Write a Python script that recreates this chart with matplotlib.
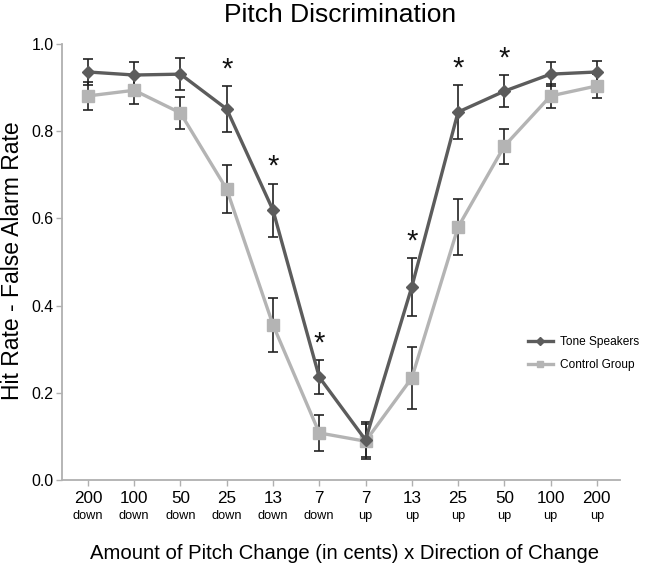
import numpy as np
import matplotlib
matplotlib.use("Agg")
import matplotlib.pyplot as plt
import matplotlib.transforms as mtransforms

plt.rcParams['font.family'] = ['Liberation Sans', 'DejaVu Sans']

amounts = ["200", "100", "50", "25", "13", "7", "7", "13", "25", "50", "100", "200"]
directions = ["down"] * 6 + ["up"] * 6

tone = [0.936, 0.929, 0.931, 0.851, 0.619, 0.236, 0.092, 0.443, 0.844, 0.892, 0.931, 0.936]
tone_err = [0.030, 0.030, 0.036, 0.053, 0.061, 0.039, 0.040, 0.067, 0.062, 0.037, 0.028, 0.026]
control = [0.881, 0.894, 0.842, 0.667, 0.356, 0.108, 0.089, 0.234, 0.580, 0.766, 0.881, 0.904]
control_err = [0.032, 0.032, 0.037, 0.055, 0.062, 0.041, 0.040, 0.070, 0.064, 0.040, 0.028, 0.028]
significant = [False, False, False, True, True, True, False, True, True, True, False, False]

x = np.arange(len(amounts))

fig = plt.figure(figsize=(6.54, 5.65), dpi=100)
ax = fig.add_axes([0.0948, 0.1504, 0.8532, 0.7716])

ax.errorbar(x, control, yerr=control_err, fmt='none', ecolor='#222222',
            elinewidth=1.2, capsize=3.5, capthick=1.2, zorder=2)
ax.errorbar(x, tone, yerr=tone_err, fmt='none', ecolor='#222222',
            elinewidth=1.2, capsize=3.5, capthick=1.2, zorder=2)
ax.plot(x, control, color='#b4b4b4', lw=2.4, marker='s', ms=8,
        mfc='#b4b4b4', mec='#b4b4b4', label='Control Group', zorder=3)
ax.plot(x, tone, color='#5c5c5c', lw=2.4, marker='D', ms=6.5,
        mfc='#5c5c5c', mec='#5c5c5c', label='Tone Speakers', zorder=4)

# significance markers
for xi, v, e, s in zip(x, tone, tone_err, significant):
    if s:
        ax.text(xi, v + e + 0.006, '*', ha='center', va='bottom',
                fontsize=21, color='#111111')

ax.set_xlim(-0.56, 11.5)
ax.set_ylim(0, 1.0)
ax.set_yticks(np.arange(0, 1.01, 0.2))
ax.set_yticklabels([f"{t:.1f}" for t in np.arange(0, 1.01, 0.2)], fontsize=11.4)
ax.set_xticks(x)
ax.set_xticklabels([])

trans = mtransforms.blended_transform_factory(ax.transData, ax.transAxes)
for xi, a, d in zip(x, amounts, directions):
    ax.text(xi, -0.026, a, transform=trans, ha='center', va='top', fontsize=12.3)
    ax.text(xi, -0.068, d, transform=trans, ha='center', va='top', fontsize=9.2)

for side in ['top', 'right']:
    ax.spines[side].set_visible(False)
for side in ['left', 'bottom']:
    ax.spines[side].set_color('#b0b0b0')
    ax.spines[side].set_linewidth(1.3)
ax.tick_params(axis='both', colors='#b0b0b0', length=4, width=1)
ax.tick_params(axis='y', labelcolor='black', pad=2)

fig.text(0.52, 0.961, "Pitch Discrimination", ha='center', va='baseline', fontsize=19)
fig.text(0.019, 0.538, "Hit Rate - False Alarm Rate", rotation=90,
         ha='center', va='center', fontsize=16.5)
fig.text(0.526, 0.011, "Amount of Pitch Change (in cents) x Direction of Change",
         ha='center', va='baseline', fontsize=14.6)

handles, labels = ax.get_legend_handles_labels()
leg = ax.legend(handles[::-1], labels[::-1], loc='center left',
                bbox_to_anchor=(0.835, 0.29), frameon=False, fontsize=8.6,
                handlelength=2.1, handletextpad=0.55, labelspacing=0.9,
                borderpad=0, borderaxespad=0, markerscale=0.6)

fig.savefig("out.png", dpi=100)
